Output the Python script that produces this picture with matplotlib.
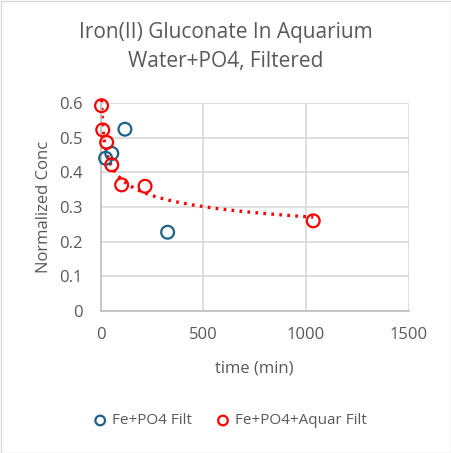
import numpy as np
import matplotlib
matplotlib.use('Agg')
from matplotlib import pyplot as plt

plt.rcParams['font.family'] = ['Open Sans', 'DejaVu Sans']

# Fe+PO4 Filt
t_po4 = [24, 54, 118, 326]
c_po4 = [0.441, 0.455, 0.525, 0.227]

# Fe+PO4+Aquar Filt
t_aq = [4, 10, 29, 54, 102, 216, 1035]
c_aq = [0.593, 0.523, 0.487, 0.422, 0.364, 0.36, 0.26]

gray = '#595959'
grid = '#d9d9d9'

fig = plt.figure(figsize=(4.52, 4.53), dpi=100)
ax = fig.add_axes([100.7/452, 1-310.7/453, 308/452, 207.4/453])

# power trendline like excel
b, lna = np.polyfit(np.log(t_aq), np.log(c_aq), 1)
xt = np.linspace(min(t_aq), max(t_aq), 300)
ax.plot(xt, np.exp(lna) * xt**b, linestyle=(0, (0.8, 1.6)), color='#ff0000',
        linewidth=2.4, zorder=2, clip_on=False)

ax.scatter(t_po4, c_po4, s=85, facecolors='none', edgecolors='#1f6287', linewidths=1.6,
           label='Fe+PO4 Filt', zorder=3, clip_on=False)
ax.scatter(t_aq, c_aq, s=85, facecolors='none', edgecolors='#ff0000', linewidths=1.6,
           label='Fe+PO4+Aquar Filt', zorder=3, clip_on=False)

ax.set_xlim(0, 1500)
ax.set_ylim(0, 0.6)
ax.set_xticks(np.arange(0, 1501, 500))
ax.set_yticks(np.arange(0, 0.61, 0.1))
ax.set_yticklabels(['0', '0.1', '0.2', '0.3', '0.4', '0.5', '0.6'])
ax.grid(True, color=grid, linewidth=1.2)
ax.set_axisbelow(True)
for s in ['top', 'right']:
    ax.spines[s].set_visible(False)
for s in ['left', 'bottom']:
    ax.spines[s].set_color('#bfbfbf')
    ax.spines[s].set_linewidth(1.2)
ax.tick_params(length=0, labelsize=12, colors=gray)
ax.tick_params(axis='x', pad=12)
ax.tick_params(axis='y', pad=13)
ax.set_xlabel('time (min)', fontsize=12, color=gray, labelpad=12)
ax.set_ylabel('Normalized Conc', fontsize=12, color=gray, labelpad=5)

fig.text(0.5, 1-47/453, 'Iron(II) Gluconate In Aquarium\nWater+PO4, Filtered',
         ha='center', va='center', fontsize=15, color=gray, linespacing=1.5)

fig.legend(loc='center', bbox_to_anchor=(0.5, 1-421/453), ncol=2, frameon=False,
           fontsize=11, labelcolor=gray, handletextpad=-0.2, columnspacing=1.0,
           markerscale=0.75)

fig.patches.append(plt.Rectangle((0.5/452, 0.5/453), 1-1/452, 1-1/453, transform=fig.transFigure,
                                 fill=False, edgecolor='#d9d9d9', linewidth=1))

plt.savefig('out.png', dpi=100)
